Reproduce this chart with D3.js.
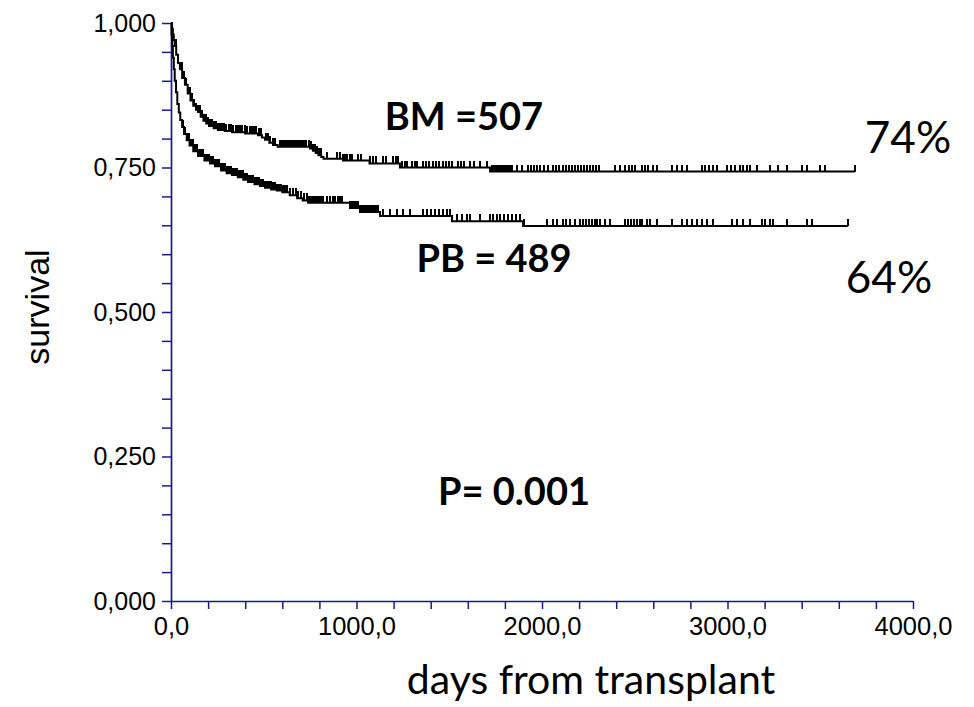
<!DOCTYPE html>
<html>
<head>
<meta charset="utf-8">
<script src="https://cdn.jsdelivr.net/npm/d3@7"></script>
<style>
  body { margin: 0; background: #fff; }
  svg { display: block; }
  .tick text { fill: #000; }
</style>
</head>
<body>
<svg id="chart" width="974" height="707"></svg>
<script>
// Kaplan-Meier steps: day where survival drops, new survival
const bmDays = [0, 5, 10, 15, 20, 28, 38, 48, 60, 75, 90, 105, 120, 135, 146, 160, 175, 190, 205, 230, 253, 290, 329, 400, 469, 490, 507, 530, 550, 575, 750, 765, 780, 795, 810, 822, 927, 1070, 1234, 1720];
const bmSurv = [1.0, 0.99, 0.98, 0.97, 0.96, 0.945, 0.931, 0.92, 0.905, 0.893, 0.878, 0.866, 0.857, 0.85, 0.846, 0.838, 0.831, 0.826, 0.822, 0.818, 0.815, 0.813, 0.811, 0.809, 0.806, 0.802, 0.798, 0.793, 0.789, 0.786, 0.783, 0.779, 0.775, 0.771, 0.768, 0.765, 0.762, 0.757, 0.75, 0.743];
const bmLastDay = 3687;

const pbDays = [0, 3, 6, 10, 15, 20, 27, 34, 42, 50, 60, 70, 85, 100, 120, 146, 180, 210, 237, 270, 300, 329, 360, 390, 415, 450, 480, 507, 540, 570, 600, 640, 680, 710, 739, 965, 1019, 1127, 1515, 1898];
const pbSurv = [1.0, 0.98, 0.96, 0.94, 0.92, 0.9, 0.88, 0.86, 0.845, 0.832, 0.82, 0.808, 0.797, 0.788, 0.778, 0.77, 0.762, 0.757, 0.752, 0.745, 0.74, 0.737, 0.733, 0.729, 0.725, 0.721, 0.718, 0.715, 0.712, 0.71, 0.707, 0.702, 0.697, 0.693, 0.689, 0.68, 0.673, 0.666, 0.657, 0.649];
const pbLastDay = 3650;

// censored patients (days), one tick each
const bmCensored = [27, 38, 49, 59, 70, 81, 92, 102, 113, 124, 135, 146, 156, 167, 178, 189, 199, 210, 221, 232, 243, 253, 264, 275, 286, 297, 313, 323, 334, 350, 361, 372, 383, 399, 410, 426, 437, 447, 458, 474, 485, 512, 523, 534, 550, 561, 588, 598, 609, 620, 631, 641, 652, 663, 674, 685, 695, 706, 717, 728, 744, 755, 766, 776, 787, 798, 809, 841, 895, 911, 927, 938, 949, 965, 976, 1008, 1024, 1073, 1089, 1105, 1143, 1159, 1197, 1213, 1224, 1245, 1261, 1272, 1299, 1315, 1326, 1358, 1375, 1391, 1412, 1429, 1445, 1466, 1483, 1499, 1515, 1547, 1563, 1580, 1612, 1634, 1666, 1704, 1731, 1741, 1752, 1763, 1774, 1784, 1795, 1806, 1817, 1828, 1838, 1865, 1892, 1925, 1941, 1957, 1973, 1989, 2011, 2032, 2059, 2076, 2092, 2113, 2129, 2146, 2162, 2178, 2194, 2210, 2226, 2243, 2259, 2275, 2291, 2307, 2394, 2421, 2448, 2469, 2485, 2501, 2539, 2555, 2571, 2598, 2620, 2701, 2728, 2755, 2782, 2862, 2879, 2900, 2922, 2943, 2997, 3019, 3040, 3067, 3084, 3105, 3121, 3159, 3229, 3272, 3321, 3402, 3429, 3499, 3526, 3687];
const pbCensored = [65, 75, 86, 97, 108, 119, 129, 140, 151, 162, 173, 183, 194, 205, 216, 226, 237, 248, 259, 270, 280, 291, 302, 313, 323, 334, 345, 356, 367, 377, 388, 399, 410, 420, 431, 442, 453, 464, 474, 485, 496, 507, 518, 528, 539, 550, 561, 571, 582, 593, 604, 615, 625, 642, 658, 674, 685, 701, 717, 733, 744, 755, 766, 776, 787, 798, 809, 819, 841, 857, 873, 884, 900, 911, 922, 965, 976, 987, 997, 1008, 1019, 1030, 1040, 1051, 1062, 1073, 1084, 1094, 1105, 1116, 1143, 1181, 1218, 1251, 1288, 1359, 1380, 1402, 1423, 1445, 1466, 1488, 1504, 1542, 1569, 1596, 1612, 1666, 1720, 1736, 1757, 1774, 1795, 1817, 1838, 1860, 1881, 1905, 2027, 2059, 2081, 2113, 2129, 2151, 2178, 2205, 2221, 2237, 2253, 2270, 2286, 2297, 2313, 2340, 2367, 2448, 2464, 2480, 2496, 2512, 2528, 2539, 2566, 2582, 2620, 2701, 2755, 2782, 2809, 2836, 2862, 2890, 2922, 3024, 3051, 3084, 3121, 3186, 3202, 3229, 3245, 3321, 3429, 3456, 3650];

const yTicks = [0, 0.05, 0.1, 0.15, 0.2, 0.25, 0.3, 0.35, 0.4, 0.45, 0.5, 0.55, 0.6, 0.65, 0.7, 0.75, 0.8, 0.85, 0.9, 0.95, 1.0];
const yLabelled = [0, 0.25, 0.5, 0.75, 1.0];
const xTicks = [0, 200, 400, 600, 800, 1000, 1200, 1400, 1600, 1800, 2000, 2200, 2400, 2600, 2800, 3000, 3200, 3400, 3600, 3800, 4000];
const xLabelled = [0, 1000, 2000, 3000, 4000];

const svg = d3.select("#chart");
const axisColor = "#1a1a96";

const x = d3.scaleLinear().domain([0, 4000]).range([171, 913]);
const y = d3.scaleLinear().domain([0, 1]).range([601, 23]);

const commaFmt = (fmt) => (v) => fmt(v).replace(".", ",");
const fmtY = commaFmt(d3.format(".3f"));
const fmtX = commaFmt(d3.format(".1f"));

const yAxis = svg
  .append("g")
  .attr("transform", `translate(${x(0)},0)`)
  .call(
    d3
      .axisLeft(y)
      .tickValues(yTicks)
      .tickSize(9)
      .tickSizeOuter(0)
      .tickPadding(6)
      .tickFormat((v) => (yLabelled.some((l) => Math.abs(l - v) < 1e-9) ? fmtY(v) : ""))
  );

const xAxis = svg
  .append("g")
  .attr("transform", `translate(0,${y(0)})`)
  .call(
    d3
      .axisBottom(x)
      .tickValues(xTicks)
      .tickSize(8)
      .tickSizeOuter(0)
      .tickPadding(8)
      .tickFormat((v) => (xLabelled.includes(v) ? fmtX(v) : ""))
  );

[yAxis, xAxis].forEach((g) => {
  g.select(".domain").attr("stroke", axisColor).attr("stroke-width", 1.7);
  g.selectAll(".tick line").attr("stroke", axisColor).attr("stroke-width", 1.5);
  g.selectAll(".tick text")
    .attr("font-family", "'Liberation Sans', Arial, sans-serif")
    .attr("font-size", 25);
});
xAxis.selectAll(".tick text").attr("font-size", 25.5);

// step function value at a given day
const survAt = (days, surv, t) => surv[d3.bisectRight(days, t) - 1];

const line = d3
  .line()
  .x((d) => x(d[0]))
  .y((d) => y(d[1]))
  .curve(d3.curveStepAfter);

const groups = [
  { days: bmDays, surv: bmSurv, last: bmLastDay, censored: bmCensored },
  { days: pbDays, surv: pbSurv, last: pbLastDay, censored: pbCensored },
];

groups.forEach((grp) => {
  const pts = grp.days.map((d, i) => [d, grp.surv[i]]);
  pts.push([grp.last, grp.surv[grp.surv.length - 1]]);

  svg
    .append("path")
    .datum(pts)
    .attr("fill", "none")
    .attr("stroke", "#000")
    .attr("stroke-width", 2)
    .attr("d", line);

  svg
    .append("g")
    .selectAll("line")
    .data(grp.censored)
    .enter()
    .append("line")
    .attr("x1", (d) => Math.round(x(d)))
    .attr("x2", (d) => Math.round(x(d)))
    .attr("y1", (d) => y(survAt(grp.days, grp.surv, d)))
    .attr("y2", (d) => y(survAt(grp.days, grp.surv, d)) - 7)
    .attr("stroke", "#000")
    .attr("stroke-width", 2)
    .attr("shape-rendering", "crispEdges");
});

const uiFont = "Lato, 'Open Sans', sans-serif";

const labels = [
  { text: "BM =507", x: 464, y: 130, size: 38, weight: "bold" },
  { text: "PB = 489", x: 494, y: 272, size: 38, weight: "bold" },
  { text: "P= 0.001", x: 514, y: 505, size: 38, weight: "bold" },
  { text: "74%", x: 908, y: 153, size: 44, weight: "normal" },
  { text: "64%", x: 889, y: 293, size: 44, weight: "normal" },
  { text: "days from transplant", x: 591, y: 694, size: 41, weight: "normal" },
];

svg
  .append("g")
  .selectAll("text")
  .data(labels)
  .enter()
  .append("text")
  .attr("x", (d) => d.x)
  .attr("y", (d) => d.y)
  .attr("text-anchor", "middle")
  .attr("font-family", uiFont)
  .attr("font-size", (d) => d.size)
  .attr("font-weight", (d) => d.weight)
  .text((d) => d.text);

svg
  .append("text")
  .attr("transform", "translate(49,307) rotate(-90)")
  .attr("text-anchor", "middle")
  .attr("font-family", "'Liberation Sans', Arial, sans-serif")
  .attr("font-size", 34)
  .text("survival");
</script>
</body>
</html>
